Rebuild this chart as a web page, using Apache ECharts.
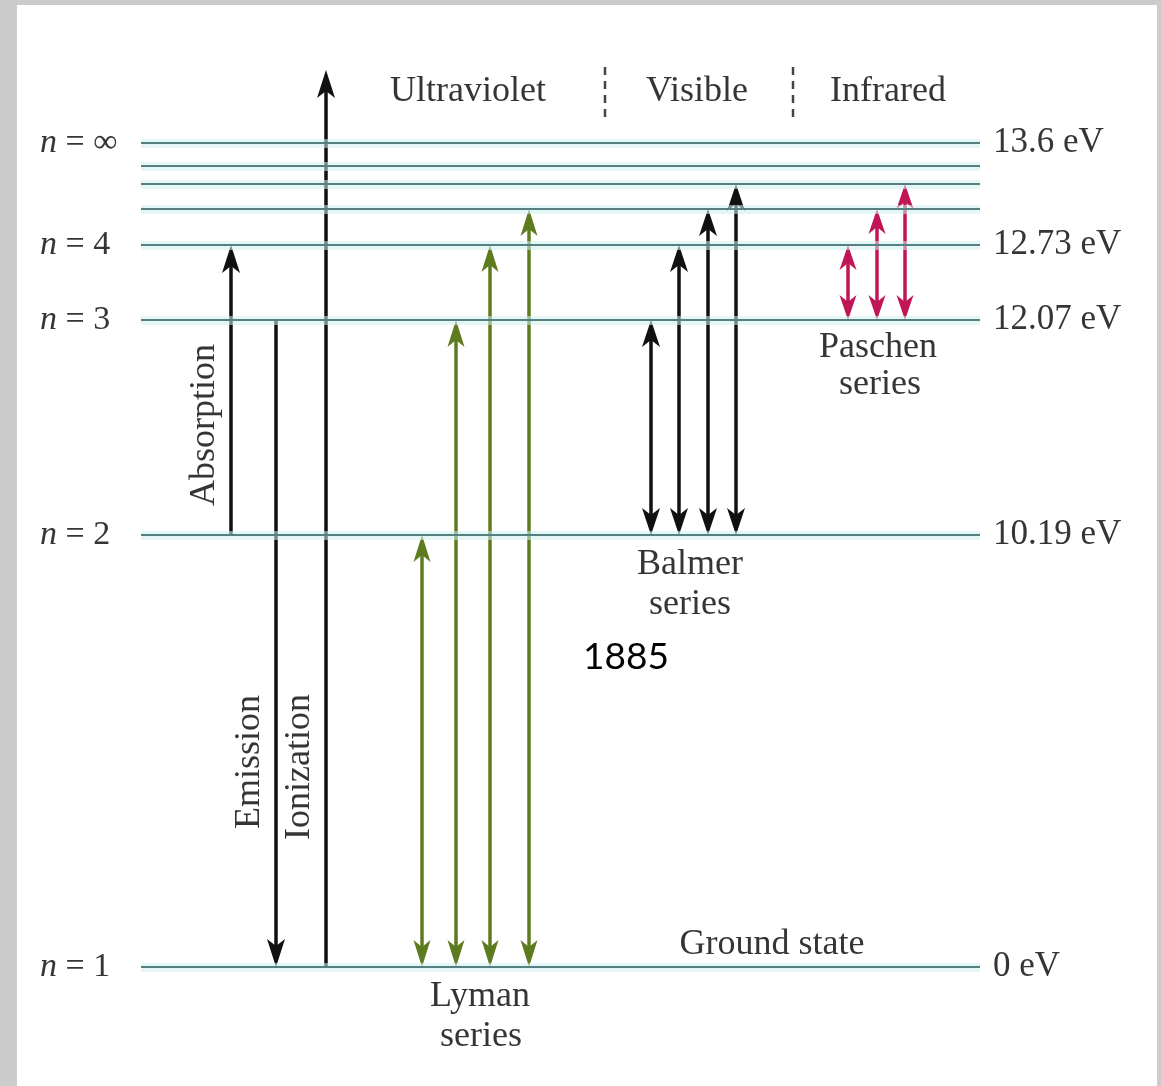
<!DOCTYPE html>
<html>
<head>
<meta charset="utf-8">
<script src="https://cdn.jsdelivr.net/npm/echarts@6/dist/echarts.min.js"></script>
<style>
  html, body { margin: 0; padding: 0; background: #cccccc; width: 1161px; height: 1086px; overflow: hidden; }
  #chart { position: absolute; left: 17px; top: 5px; width: 1140px; height: 1081px; background: #ffffff; }
</style>
</head>
<body>
<div id="chart"></div>
<script>
// ---- Data ----
// Energy levels of hydrogen; heights are the schematic diagram heights above the ground state
const levelN       = ['1', '2', '3', '4', '5', '6', '7', '∞'];
const levelHeight  = [0, 432, 647, 722, 758, 783, 801, 824];
const levelEnergy  = ['0 eV', '10.19 eV', '12.07 eV', '12.73 eV', '', '', '', '13.6 eV'];
const labeledLevels = ['1', '2', '3', '4', '∞'];

// Transitions: horizontal slot and lower/upper quantum number
const absorptionX = [231]; const absorptionFrom = ['2']; const absorptionTo = ['4'];
const emissionX   = [276]; const emissionFrom   = ['3']; const emissionTo   = ['1'];
const ionizationX = [326]; const ionizationFrom = ['1']; const ionizationTop = 897;

const lymanX      = [422, 456, 490, 529]; const lymanUpper   = ['2', '3', '4', '5']; const lymanLower   = '1';
const balmerX     = [651, 679, 708, 736]; const balmerUpper  = ['3', '4', '5', '6']; const balmerLower  = '2';
const paschenX    = [848, 877, 905];      const paschenUpper = ['4', '5', '6'];      const paschenLower = '3';

const xExtent = [141, 980];
const yExtent = [-119, 962];

// ---- helpers ----
const H = n => levelHeight[levelN.indexOf(n)];
const SERIF = '"Liberation Serif", "DejaVu Serif", serif';
const TXT = '#353535';

function arrowRenderer(headL, headW, notch, lw) {
  return function (params, api) {
    const x = api.value(0), y1 = api.value(1), y2 = api.value(2), both = api.value(3);
    const p1 = api.coord([x, y1]), p2 = api.coord([x, y2]);
    const color = api.visual('color');
    const dir = p2[1] > p1[1] ? 1 : -1;
    const children = [];
    const head = (tip, d) => ({
      type: 'polygon',
      shape: { points: [
        [tip[0], tip[1]],
        [tip[0] + headW / 2, tip[1] - d * headL],
        [tip[0], tip[1] - d * (headL - notch)],
        [tip[0] - headW / 2, tip[1] - d * headL]
      ] },
      style: { fill: color }
    });
    const sY = both ? p1[1] + dir * (headL - notch) : p1[1];
    const eY = p2[1] - dir * (headL - notch);
    children.push({ type: 'line', shape: { x1: p1[0], y1: sY, x2: p2[0], y2: eY },
      style: { stroke: color, lineWidth: lw } });
    children.push(head(p2, dir));
    if (both) children.push(head(p1, -dir));
    return { type: 'group', children };
  };
}

const blackSingle = [
  [absorptionX[0], H(absorptionFrom[0]), H(absorptionTo[0]), 0],
  [emissionX[0],   H(emissionFrom[0]),   H(emissionTo[0]),   0],
  [ionizationX[0], H(ionizationFrom[0]), ionizationTop,      0]
];
const balmerData  = balmerX.map((x, i) => [x, H(balmerLower), H(balmerUpper[i]), 1]);
const lymanData   = lymanX.map((x, i) => [x, H(lymanLower), H(lymanUpper[i]), 1]);
const paschenData = paschenX.map((x, i) => [x, H(paschenLower), H(paschenUpper[i]), 1]);

const labeledHeights = labeledLevels.map(H);

const chart = echarts.init(document.getElementById('chart'), null, { renderer: 'canvas' });

function txt(x, y, text, extra) {
  return Object.assign({
    type: 'text', x, y,
    style: Object.assign({ text, font: '36px ' + SERIF, fill: TXT, align: 'center', verticalAlign: 'middle' }, extra || {})
  });
}

chart.setOption({
  animation: false,
  backgroundColor: '#ffffff',
  grid: { left: 124, right: 177, top: 0, bottom: 0, containLabel: false },
  xAxis: { type: 'value', min: xExtent[0], max: xExtent[1], show: false },
  yAxis: [
    {
      type: 'value', min: yExtent[0], max: yExtent[1], position: 'left',
      axisLine: { show: false }, axisTick: { show: false }, splitLine: { show: false },
      axisLabel: {
        show: true, customValues: labeledHeights, align: 'left', margin: 101,
        formatter: v => '{i|n} = ' + levelN[levelHeight.indexOf(v)],
        color: TXT, fontFamily: SERIF, fontSize: 34,
        rich: { i: { fontStyle: 'italic', fontFamily: SERIF, fontSize: 34, color: TXT } }
      }
    },
    {
      type: 'value', min: yExtent[0], max: yExtent[1], position: 'right',
      axisLine: { show: false }, axisTick: { show: false }, splitLine: { show: false },
      axisLabel: {
        show: true, customValues: labeledHeights, align: 'left', margin: 13,
        formatter: v => levelEnergy[levelHeight.indexOf(v)],
        color: TXT, fontFamily: SERIF, fontSize: 35
      }
    }
  ],
  series: [
    {
      name: 'levels-glow', type: 'line', data: [], silent: true,
      markLine: { symbol: 'none', silent: true, label: { show: false },
        lineStyle: { color: 'rgba(205,238,238,0.55)', width: 9, type: 'solid' },
        data: levelHeight.map(h => ({ yAxis: h })) }
    },
    {
      name: 'levels', type: 'line', data: [], silent: true,
      markLine: { symbol: 'none', silent: true, label: { show: false },
        lineStyle: { color: '#557f80', width: 2, type: 'solid' },
        data: levelHeight.map(h => ({ yAxis: h })) }
    },
    {
      name: 'Lyman', type: 'custom', renderItem: arrowRenderer(27, 17, 7, 3.5),
      itemStyle: { color: '#5e7b20' }, encode: { x: 0, y: [1, 2] }, data: lymanData
    },
    {
      name: 'Balmer', type: 'custom', renderItem: arrowRenderer(27, 18, 7, 3.5),
      itemStyle: { color: '#111111' }, encode: { x: 0, y: [1, 2] }, data: balmerData
    },
    {
      name: 'Paschen', type: 'custom', renderItem: arrowRenderer(25, 17, 7, 3.5),
      itemStyle: { color: '#c01656' }, encode: { x: 0, y: [1, 2] }, data: paschenData
    },
    {
      name: 'Transitions', type: 'custom', renderItem: arrowRenderer(28, 18, 7, 3.5),
      itemStyle: { color: '#111111' }, encode: { x: 0, y: [1, 2] }, data: blackSingle
    }
  ],
  graphic: [
    txt(451, 87, 'Ultraviolet'),
    txt(680, 87, 'Visible'),
    txt(871, 87, 'Infrared'),
    { type: 'line', shape: { x1: 588, y1: 62, x2: 588, y2: 115 }, style: { stroke: '#444', lineWidth: 2.5, lineDash: [8, 6] } },
    { type: 'line', shape: { x1: 776, y1: 62, x2: 776, y2: 115 }, style: { stroke: '#444', lineWidth: 2.5, lineDash: [8, 6] } },
    Object.assign(txt(188, 420, 'Absorption'), { rotation: Math.PI / 2 }),
    Object.assign(txt(233, 757, 'Emission'), { rotation: Math.PI / 2 }),
    Object.assign(txt(283, 762, 'Ionization'), { rotation: Math.PI / 2 }),
    txt(861, 343, 'Paschen'),
    txt(863, 380, 'series'),
    txt(673, 560, 'Balmer'),
    txt(673, 600, 'series'),
    txt(755, 940, 'Ground state'),
    txt(463, 992, 'Lyman'),
    txt(464, 1032, 'series'),
    txt(609, 652, '1885', { font: '37px Lato, "Open Sans", sans-serif', fill: '#000000' })
  ]
});
</script>
</body>
</html>
